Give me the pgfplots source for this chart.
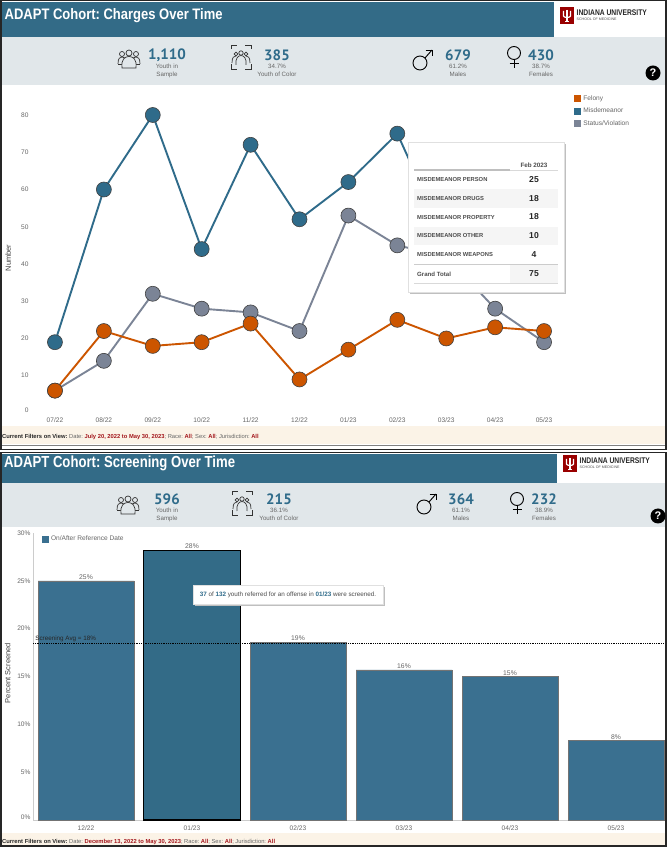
\documentclass[border=0pt]{standalone}
\usepackage{pgfplots}
\pgfplotsset{compat=1.18}
\usepackage{fontspec}
\setmainfont{Liberation Sans}
\newfontfamily\statfont{PT Sans}
\frenchspacing
\definecolor{band}{HTML}{336B87}
\definecolor{greyband}{HTML}{E1E7EA}
\definecolor{cream}{HTML}{FBF3E7}
\definecolor{cblue}{HTML}{2F6B8A}
\definecolor{corange}{HTML}{CC5500}
\definecolor{cgray}{HTML}{7B8496}
\definecolor{barblue}{HTML}{3A7090}
\definecolor{txtgray}{HTML}{666666}
\definecolor{iured}{HTML}{990000}
\definecolor{fred}{HTML}{A3161C}
\definecolor{statblue}{HTML}{2F6B8A}
\newcommand\fs[1]{\fontsize{#1}{#1}\selectfont}
\newcommand\peopleicon[2]{%
 \begin{scope}[shift={(#1,#2)},draw=black!80,line width=.7pt]
 \draw (-7,-5) circle (2.5); \draw (7,-5) circle (2.5); \draw[fill=greyband] (0,-6) circle (3);
 \draw (-11,5) .. controls (-11,-1) and (-9,-2) .. (-7,-2) .. controls (-6,-2) and (-5,-2) .. (-4,-1);
 \draw (11,5) .. controls (11,-1) and (9,-2) .. (7,-2) .. controls (6,-2) and (5,-2) .. (4,-1);
 \draw (-11,5) -- (-6,5); \draw (11,5) -- (6,5);
 \draw[fill=greyband] (-7,9) .. controls (-8,0) and (-4,-2.5) .. (0,-2.5) .. controls (4,-2.5) and (8,0) .. (7,9) -- cycle;
 \end{scope}}
\newcommand\coloricon[2]{%
 \begin{scope}[shift={(#1,#2)},draw=black!80,line width=.7pt]
 \draw (-10,-8) -- (-10,-12) -- (-4,-12); \draw (4,-12) -- (10,-12) -- (10,-8);
 \draw (-10,7) -- (-10,12) -- (-4,12); \draw (4,12) -- (10,12) -- (10,7);
 \draw (-5,-3) circle (1.8); \draw (5,-3) circle (1.8); \draw[fill=greyband] (0,-4) circle (2.2);
 \draw (-9,6) .. controls (-9,0) and (-7,-1) .. (-5,-1); \draw (9,6) .. controls (9,0) and (7,-1) .. (5,-1);
 \draw[fill=greyband] (-5,8) .. controls (-6,2) and (-3,-1.5) .. (0,-1.5) .. controls (3,-1.5) and (6,2) .. (5,8);
 \end{scope}}
\newcommand\maleicon[2]{%
 \begin{scope}[shift={(#1,#2)},draw=black,line width=.9pt]
 \draw (-3,3) circle (7); \draw (2,-2) -- (9,-10); \draw (2.5,-10) -- (9,-10) -- (9,-3.5);
 \end{scope}}
\newcommand\femaleicon[2]{%
 \begin{scope}[shift={(#1,#2)},draw=black,line width=.9pt]
 \draw (0,-5) circle (6.5); \draw (0,1.5) -- (0,10); \draw (-4.5,5.5) -- (4.5,5.5);
 \end{scope}}
\newcommand\stat[5]{% x y number line1 line2
 \node[font=\statfont\bfseries\fs{15},text=statblue,inner sep=0] at (#1,#2) {#3};
 \node[font=\fs{6.2},text=txtgray,inner sep=0] at (#1,#2+11.5) {#4};
 \node[font=\fs{6.2},text=txtgray,inner sep=0] at (#1,#2+19.5) {#5};}
\newcommand\logo[2]{%
 \begin{scope}[shift={(#1,#2)}]
 \fill[iured] (0,0) rectangle (14,17);
 \draw[white,line width=1.1pt] (3.5,4) -- (3.5,9) .. controls (3.5,11) and (10.5,11) .. (10.5,9) -- (10.5,4);
 \draw[white,line width=1.5pt] (7,3) -- (7,14.5);
 \draw[white,line width=.8pt] (5,14.5) -- (9,14.5);
 \node[anchor=west,inner sep=0,font=\bfseries\fs{8.2},text=black!85] at (16.5,5.5) {\addfontfeatures{FakeStretch=.82}INDIANA UNIVERSITY};
 \node[anchor=west,inner sep=0,font=\fs{3.6},text=black!70] at (16.5,12) {SCHOOL OF MEDICINE};
 \end{scope}}
\newcommand\qmark[2]{%
 \fill[black] (#1,#2) circle (7.5);
 \node[text=white,font=\bfseries\fs{11},inner sep=0] at (#1,#2) {?};}
\begin{document}
\begin{tikzpicture}
\path[use as bounding box] (0,0) rectangle (667pt,847pt);
\begin{scope}[x=1pt,y=-1pt,shift={(0pt,847pt)}]
 % ---------- panel 1
 \fill[white] (0,0) rectangle (667,847);
 \fill[band] (2,2) rectangle (554,37);
 \fill[greyband] (2,37) rectangle (665,85);
 \fill[cream] (2,426) rectangle (665,444);
 \draw[black!85,line width=1.5pt] (.75,.75) rectangle (666,449.5);
 \draw[black!50,line width=.6pt] (2,445) -- (665,445);
 \node[anchor=west,inner sep=0,text=white,font=\bfseries\fs{15.2}] at (4.5,15.5) {\addfontfeatures{FakeStretch=.855}ADAPT Cohort: Charges Over Time};
 \logo{560}{7}
 \peopleicon{129}{59}
 \coloricon{241}{57}
 \maleicon{423}{60}
 \femaleicon{514}{58}
 \stat{167}{55}{1,110}{Youth in}{Sample}
 \stat{277}{55}{385}{34.7\%}{Youth of Color}
 \stat{458}{55}{679}{61.2\%}{Males}
 \stat{541}{55}{430}{38.7\%}{Females}
 \qmark{653}{73}
 \node[anchor=west,inner sep=0,font=\fs{5.8}] at (2,437) {\textbf{\textcolor{black!85}{Current Filters on View:}} \textcolor{txtgray}{Date:} \textcolor{fred}{\textbf{July 20, 2022 to May 30, 2023}}\textcolor{txtgray}{; Race:} \textcolor{fred}{\textbf{All}}\textcolor{txtgray}{; Sex:} \textcolor{fred}{\textbf{All}}\textcolor{txtgray}{; Jurisdiction:} \textcolor{fred}{\textbf{All}}};
 % ---------- panel 2
 \fill[band] (2,454) rectangle (557,483);
 \fill[greyband] (2,483) rectangle (665,527);
 \fill[cream] (2,833) rectangle (665,845.5);
 \draw[black!85,line width=1.5pt] (.75,452.5) rectangle (666,846.2);
 \node[anchor=west,inner sep=0,text=white,font=\bfseries\fs{16}] at (4,463.5) {\addfontfeatures{FakeStretch=.82}ADAPT Cohort: Screening Over Time};
 \logo{563}{455}
 \peopleicon{128}{505}
 \coloricon{242}{503}
 \maleicon{427}{504}
 \femaleicon{517}{504}
 \stat{167}{499}{596}{Youth in}{Sample}
 \stat{279}{499}{215}{36.1\%}{Youth of Color}
 \stat{461}{499}{364}{61.1\%}{Males}
 \stat{544}{499}{232}{38.9\%}{Females}
 \qmark{658}{516}
 \node[anchor=west,inner sep=0,font=\fs{5.8}] at (2,842) {\textbf{\textcolor{black!85}{Current Filters on View:}} \textcolor{txtgray}{Date:} \textcolor{fred}{\textbf{December 13, 2022 to May 30, 2023}}\textcolor{txtgray}{; Race:} \textcolor{fred}{\textbf{All}}\textcolor{txtgray}{; Sex:} \textcolor{fred}{\textbf{All}}\textcolor{txtgray}{; Jurisdiction:} \textcolor{fred}{\textbf{All}}};
\end{scope}

% ---------- line chart
\begin{axis}[
 at={(30.5pt,430.3pt)},anchor=south west,
 scale only axis,width=538pt,height=331.5pt,
 xmin=-0.5,xmax=10.5,ymin=-1,ymax=88,
 axis line style={draw=none},
 tick style={draw=none},
 xtick={0,...,10},
 xticklabels={07/22,08/22,09/22,10/22,11/22,12/22,01/23,02/23,03/23,04/23,05/23},
 ytick={0,10,...,80},
 yticklabels={\raisebox{5pt}{0},10,20,30,40,50,60,70,80},
 tick label style={font=\fs{6.6},text=txtgray},
 xticklabel style={yshift=3pt},
 yticklabel style={xshift=1.5pt},
 ylabel={Number},
 ylabel style={font=\fs{7.5},text=black!75,at={(rel axis cs:0,0.5)},anchor=south,xshift=-7pt,yshift=16pt},
 clip=false,
 reverse legend,
 legend cell align=left,
 legend style={at={(rel axis cs:1.0105,0.975)},anchor=north west,draw=none,fill=none,inner sep=0pt,
   font=\fs{6.6},text=txtgray,row sep=2.2pt},
 every axis plot/.append style={line width=1.9pt,mark=*,mark size=7.5pt},
]
\addplot[color=cgray,mark options={fill=cgray,draw=black!75,line width=.6pt},
 legend image code/.code={\fill[cgray,draw=none] (0pt,-3.5pt) rectangle (7pt,3.5pt);}]
 coordinates {(0,6)(1,14)(2,32)(3,28)(4,27)(5,22)(6,53)(7,45)(8,42)(9,28)(10,19)};
\addlegendentry{Status/Violation}
\addplot[color=cblue,mark options={fill=cblue,draw=black!75,line width=.6pt},
 legend image code/.code={\fill[cblue,draw=none] (0pt,-3.5pt) rectangle (7pt,3.5pt);}]
 coordinates {(0,19)(1,60)(2,80)(3,44)(4,72)(5,52)(6,62)(7,75)(8,46)(9,42)(10,38)};
\addlegendentry{Misdemeanor}
\addplot[color=corange,mark options={fill=corange,draw=black!75,line width=.6pt},
 legend image code/.code={\fill[corange,draw=none] (0pt,-3.5pt) rectangle (7pt,3.5pt);}]
 coordinates {(0,6)(1,22)(2,18)(3,19)(4,24)(5,9)(6,17)(7,25)(8,20)(9,23)(10,22)};
\addlegendentry{Felony}
\end{axis}

% ---------- bar chart
\begin{axis}[
 at={(33pt,27pt)},anchor=south west,
 scale only axis,width=630.7pt,height=287pt,
 xmin=-0.5,xmax=5.45,ymin=0,ymax=30,
 axis x line*=bottom,axis y line*=left,
 axis line style={draw=black!20,line width=.6pt,-},
 tick style={draw=none},
 xtick={0,...,5},
 xticklabels={12/22,01/23,02/23,03/23,04/23,05/23},
 ytick={0,5,...,30},
 yticklabels={\raisebox{5pt}{0\%},5\%,10\%,15\%,20\%,25\%,30\%},
 tick label style={font=\fs{6.6},text=txtgray},
 xticklabel style={yshift=-2pt},
 yticklabel style={xshift=1pt},
 ylabel={Percent Screened},
 ylabel style={font=\fs{7.5},text=black!75,at={(rel axis cs:0,0.5)},anchor=south,xshift=3.5pt,yshift=19pt},
 clip=false,
 legend cell align=left,
 legend style={at={(rel axis cs:0.014,0.997)},anchor=north west,draw=none,fill=none,inner sep=0pt,
   font=\fs{6.6},text=txtgray},
 nodes near coords={\pgfmathprintnumber[assume math mode=true,fixed,precision=0]{\pgfplotspointmeta}\%},
 every node near coord/.append style={font=\fs{6.8},text=txtgray,inner sep=1pt},
]
\addplot[ybar,bar width=96pt,bar shift=0pt,fill=barblue,draw=black!55,line width=.6pt,
 legend image code/.code={\fill[barblue,draw=none] (0pt,-3.5pt) rectangle (7pt,3.5pt);}]
 coordinates {(0,25.0)(2,18.6)(3,15.7)(4,15.0)(5,8.3)};
\addlegendentry{On/After Reference Date}
\addplot[ybar,bar width=97pt,bar shift=0pt,fill=band,draw=black,line width=1.4pt,forget plot]
 coordinates {(1,28.2)};
\addplot[sharp plot,no marks,black,line width=.8pt,densely dotted,forget plot,nodes near coords={}]
 coordinates {(-0.5,18.5)(5.45,18.5)};
\node[anchor=south west,inner sep=0,font=\fs{6.3},text=black!85] at (axis cs:-0.48,18.65) {Screening Avg = 18\%};
\end{axis}

% ---------- tooltips
\begin{scope}[x=1pt,y=-1pt,shift={(0pt,847pt)}]
 \fill[black!25] (410,144) rectangle (566,294);
 \fill[white,draw=black!12,line width=.5pt] (408,142) rectangle (564.5,292);
 \fill[black!4] (414,189) rectangle (558,208);
 \fill[black!4] (414,227) rectangle (558,245);
 \fill[black!4] (510,265) rectangle (558,283);
 \draw[black!25,line width=1.2pt] (414,170) -- (510,170);
 \draw[black!15,line width=.5pt] (510,170) -- (558,170);
 \draw[black!20,line width=.6pt] (414,264.5) -- (558,264.5);
 \draw[black!15,line width=1pt] (414,283.5) -- (558,283.5);
 \node[font=\bfseries\fs{6.3},text=black!70,inner sep=0] at (534,165.5) {Feb 2023};
 \foreach \y/\l/\v in {180/MISDEMEANOR PERSON/25,199/MISDEMEANOR DRUGS/18,217.5/MISDEMEANOR PROPERTY/18,236/MISDEMEANOR OTHER/10,255/MISDEMEANOR WEAPONS/4}{
  \node[anchor=west,inner sep=0,font=\bfseries\fs{5.8},text=black!70] at (417,\y) {\l};
  \node[font=\bfseries\fs{8.6},text=black!85,inner sep=0] at (534,\y-.8) {\v};
 }
 \node[anchor=west,inner sep=0,font=\bfseries\fs{6.1},text=black!70] at (417,274) {Grand Total};
 \node[font=\bfseries\fs{8.6},text=black!85,inner sep=0] at (534,273.5) {75};
 % second tooltip
 \fill[black!25] (195,587) rectangle (385,606);
 \fill[white,draw=black!12,line width=.5pt] (193,585) rectangle (383,604);
 \node[inner sep=0,font=\fs{6.3},text=black!70] at (288,594.5) {\textcolor{statblue}{\textbf{37}} of \textcolor{statblue}{\textbf{132}} youth referred for an offense in \textcolor{statblue}{\textbf{01/23}} were screened.};
\end{scope}
\end{tikzpicture}
\end{document}
